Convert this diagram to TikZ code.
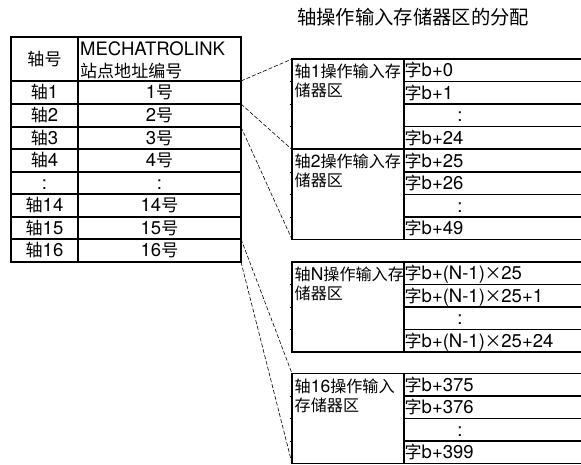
\documentclass[tikz,border=0pt]{standalone}
\usepackage{fontspec}
\setmainfont{TeX Gyre Heros}
\newfontfamily\cjk{Noto Sans CJK SC}[Scale=0.92]
\newcommand{\C}[1]{{\cjk #1}}
\newcommand{\tms}{\makebox[16.5pt]{\C{×}}}
\tikzset{
  txt/.style={inner sep=0pt, text height=13pt, text depth=0pt, font=\fontsize{18.5}{19}\selectfont},
  lbl/.style={txt, font=\fontsize{17.5}{18}\selectfont},
  grid/.style={line width=1.1pt, line cap=rect},
  thick edge/.style={line width=1.8pt},
  tick/.style={line width=0.6pt},
  link/.style={dash pattern=on 4pt off 2pt, line width=0.6pt}
}
% memory block: #1 name, #2 top y, #3 label line1, #4 label line2, #5 row1, #6 row2, #7 row4
\newcommand{\memblock}[7]{%
  \draw[grid] (581,#2) -- (292,#2) -- (292,#2+90) -- (581,#2+90);
  \draw[grid] (404,#2) -- (404,#2+90);
  \foreach \o in {22.5,45,67.5}{
    \draw[grid] (404,#2+\o) -- (581,#2+\o);
    \draw[tick] (289.5,#2+\o) -- (292,#2+\o);
  }
  \coordinate (#1-tl) at (292,#2);
  \coordinate (#1-bl) at (292,#2+90);
  \node[lbl, anchor=west] (#1-l1) at (294.5,#2+12) {#3};
  \node[lbl, anchor=west] (#1-l2) at (294.5,#2+31) {#4};
  \node[txt, anchor=west] (#1-r1) at (404.5,#2+11.25) {#5};
  \node[txt, anchor=west] (#1-r2) at (404.5,#2+33.75) {#6};
  \node[txt] (#1-r3) at (460,#2+56.25) {:};
  \node[txt, anchor=west] (#1-r4) at (404.5,#2+78.75) {#7};
}
\begin{document}
\begin{tikzpicture}[x=1pt,y=-1pt]
\useasboundingbox (0,0) rectangle (581,465);

% title
\node[inner sep=0pt, anchor=west, font=\fontsize{21}{22}\selectfont] (title) at (297,17.5) {\C{轴操作输入存储器区的分配}};

% left table
\draw[grid] (11,37) rectangle (241,262);
\draw[grid] (78,37) -- (78,262);
\foreach \y in {81,104,127,149,172,194,217,239}{
  \draw[grid] (11,\y) -- (241,\y);
}
\draw[thick edge] (241,37) -- (241,262);
\node[txt] (h1) at (44.5,59) {\C{轴号}};
\node[txt, anchor=west] (h2a) at (80,49.5) {MECHATROLINK};
\node[txt, anchor=west] (h2b) at (80,71.5) {\C{站点地址编号}};
\foreach \y/\a/\b/\n in {92.5/\C{轴}1/1\C{号}/1, 115.5/\C{轴}2/2\C{号}/2, 138/\C{轴}3/3\C{号}/3, 160.5/\C{轴}4/4\C{号}/4, 183/:/:/5, 205.5/\C{轴}14/14\C{号}/6, 228/\C{轴}15/15\C{号}/7, 250.5/\C{轴}16/16\C{号}/8}{
  \node[txt] (ax\n) at (44.5,\y) {\a};
  \node[txt] (st\n) at (159.5,\y) {\b};
}

% connection points on table
\coordinate (t1) at (241,81);
\coordinate (t2) at (241,104);
\coordinate (t3) at (241,127);
\coordinate (t15) at (241,239);
\coordinate (t16) at (241,262);

% memory blocks
\memblock{b1}{59}{\C{轴}1\C{操作输入存}}{\C{储器区}}{\C{字}b+0}{\C{字}b+1}{\C{字}b+24}
\memblock{b2}{149.5}{\C{轴}2\C{操作输入存}}{\C{储器区}}{\C{字}b+25}{\C{字}b+26}{\C{字}b+49}
\memblock{bn}{262}{\C{轴}N\C{操作输入存}}{\C{储器区}}{\C{字}b+(N-1)\tms25}{\C{字}b+(N-1)\tms25+1}{\C{字}b+(N-1)\tms25+24}
\memblock{b16}{373.5}{\C{轴}16\C{操作输入}}{\C{存储器区}}{\C{字}b+375}{\C{字}b+376}{\C{字}b+399}

% dashed links
\draw[link] (t1) -- (b1-tl);
\draw[link] (t2) -- (b2-tl);
\draw[link] (t3) -- (b2-bl);
\draw[link] (t15) -- (b16-tl);
\draw[link] (t16) -- (b16-bl);
\end{tikzpicture}
\end{document}
